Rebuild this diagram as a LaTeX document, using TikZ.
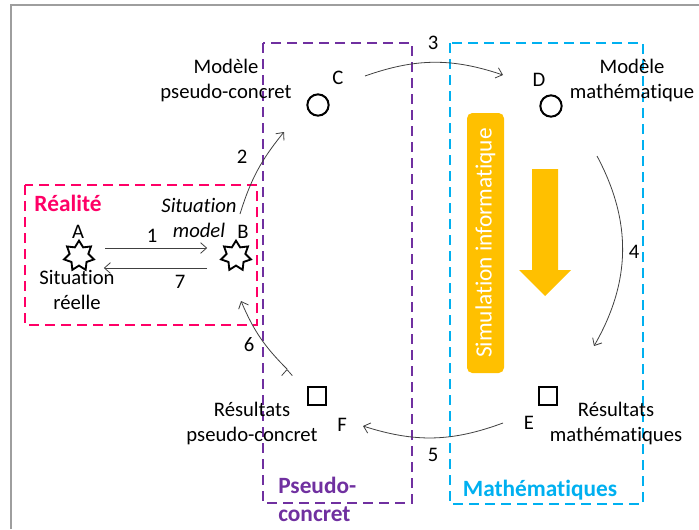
\documentclass[tikz,border=0pt]{standalone}
\usepackage{fontspec}
\setmainfont{Carlito}[Ligatures=NoCommon]
\usetikzlibrary{shapes.geometric,arrows,arrows.meta,positioning}
\definecolor{realpink}{HTML}{FF0066}
\definecolor{pseudopurple}{HTML}{7030A0}
\definecolor{mathcyan}{HTML}{00B0F0}
\definecolor{simyellow}{HTML}{FFC000}
\def\Txt{\fontsize{15.5}{18.75}\selectfont}
\def\Zone{\fontsize{17.5}{21}\selectfont\bfseries}

\begin{document}
\begin{tikzpicture}[% one unit = one pixel of the drawing, y going down
			x=0.75pt,y=-0.75pt,
			every node/.style={
				align=center,		% "\\" breaks the lines
				inner sep=0pt,
				font=\Txt
			},
			zone/.style={dash pattern=on 7.5pt off 4.5pt,line width=1.6pt},
			zonelabel/.style={font=\Zone},
			starnode/.style={star,star points=7,star point ratio=1.6,draw,line width=1.4pt,minimum size=23pt},
			ronde/.style={circle,draw,line width=1.5pt,minimum size=16pt},
			carre/.style={rectangle,draw,line width=1.5pt,minimum size=14pt},
			fleche/.style={->,>={Straight Barb[length=4.5pt,width=8pt]},draw=black!75,line width=0.6pt},
			simbox/.style={rectangle,rounded corners=4pt,fill=simyellow,text=white,font=\fontsize{17.5}{21}\selectfont,minimum width=195pt,minimum height=27.75pt,rotate=90}
		]
		\useasboundingbox (0,0) rectangle (699,529);
		% frame
		\draw[black!38,line width=1.2pt] (11,529) -- (11,5) -- (699,5);

		% zones
		\draw[zone,realpink] (25,185) rectangle (257,325);
		\draw[zone,pseudopurple] (263,43) rectangle (412,503);
		\draw[zone,mathcyan] (450,43) rectangle (643,504);
		\node[zonelabel,realpink] (Lreal) at (68,203) {Réalité};
		\node[zonelabel,pseudopurple,anchor=west,align=left] (Lpseudo) at (278,499) {Pseudo-\\concret};
		\node[zonelabel,mathcyan] (Lmath) at (540,490) {Mathématiques};

		% simulation
		\node[simbox] (Sim) at (485.5,243) {Simulation informatique};
		\fill[simyellow] (532,169) -- (558,169) -- (558,270) -- (571,270) -- (545,296) -- (519,270) -- (532,270) -- cycle;

		% situations
		\node[starnode] (A) at (79,256) {};
		\node[starnode] (B) at (236,256) {};
		\node (Alab) at (78,232) {A};
		\node (Blab) at (243,232) {B};
		\node (Atxt) at (77,290) {Situation\\réelle};
		\node[font=\Txt\itshape] (Btxt) at (199,218) {Situation\\model};

		% models
		\node[ronde] (C) at (318,105) {};
		\node[ronde] (D) at (551,106) {};
		\node (Clab) at (338,78) {C};
		\node (Dlab) at (539,80) {D};
		\node (Ctxt) at (226,80) {Modèle\\pseudo-concret};
		\node (Dtxt) at (632,80) {Modèle\\mathématique};

		% results
		\node[carre] (E) at (548,396) {};
		\node[carre] (F) at (317,396) {};
		\node (Elab) at (529,423) {E};
		\node (Flab) at (342,425) {F};
		\node (Etxt) at (616,423) {Résultats\\mathématiques};
		\node (Ftxt) at (252,423) {Résultats\\pseudo-concret};

		% free ends of the curved links
		\coordinate (s2) at (240,214); \coordinate (e2) at (284,132);
		\coordinate (s3) at (365,76);  \coordinate (e3) at (503,75);
		\coordinate (s4) at (597,156); \coordinate (e4) at (594,346);
		\coordinate (s5) at (503,423); \coordinate (e5) at (363,426);
		\coordinate (s6) at (287,369); \coordinate (e6) at (241,301);

		\path[fleche]
		([yshift=6pt]A.east) edge [shorten <=10pt,shorten >=12pt] node (n1) [above=4pt,xshift=-4pt] {1} ([yshift=6pt]B.west)
		([yshift=-9pt]B.west) edge [shorten <=12pt,shorten >=9pt] node (n7) [below=5pt,xshift=17pt] {7} ([yshift=-9pt]A.east)
		(s2) edge [bend left=11] (e2)
		(s3) edge [bend left=19] (e3)
		(s4) edge [bend left=29] (e4)
		(s5) edge [bend left=19] (e5)
		(s6) edge [bend left=11] (e6)
		;
		\node (n2) at (242,157) {2};
		\node (n3) at (433,43) {3};
		\node (n4) at (634,252) {4};
		\node (n5) at (433,455) {5};
		\node (n6) at (249,345) {6};
	\end{tikzpicture}
\end{document}
